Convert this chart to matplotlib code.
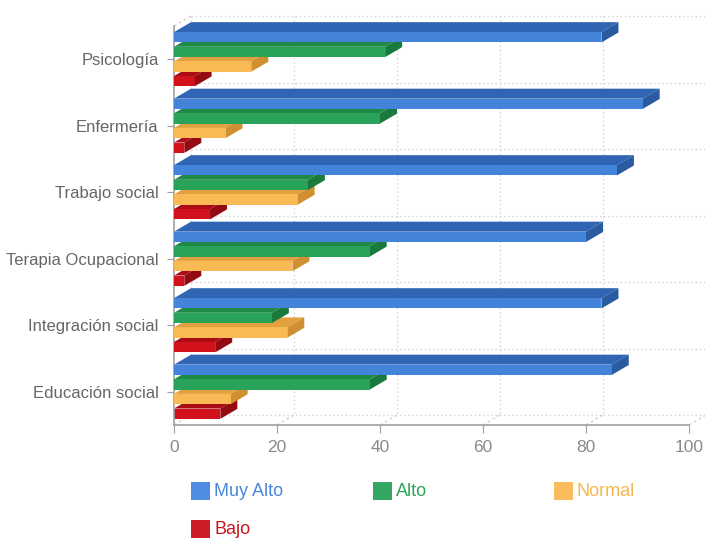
import matplotlib
matplotlib.use("Agg")
import matplotlib.pyplot as plt
from matplotlib.patches import Polygon, Rectangle

plt.rcParams["font.family"] = ["Liberation Sans", "DejaVu Sans"]

# Data
categories = ["Psicología", "Enfermería", "Trabajo social",
              "Terapia Ocupacional", "Integración social", "Educación social"]
series_names = ["Muy Alto", "Alto", "Normal", "Bajo"]
muy_alto = [83, 91, 86, 80, 83, 85]
alto = [41, 40, 26, 38, 19, 38]
normal = [15, 10, 24, 23, 22, 11]
bajo = [4, 2, 7, 2, 8, 9]
x_ticks = [0, 20, 40, 60, 80, 100]

series_values = [muy_alto, alto, normal, bajo]

# Styling
front_colors = ["#4384da", "#2aa35a", "#f9b954", "#d1111c"]
top_colors = ["#2f65b2", "#1f8a46", "#e2a03e", "#a90c15"]
side_colors = ["#2a5aa0", "#1a7a3e", "#d08f30", "#930a12"]
legend_colors = ["#4d8ce0", "#34a862", "#f9bd5c", "#cf1d28"]
legend_text_colors = ["#4a86d8", "#2ea35c", "#f7b650", "#c8161f"]

W, H = 705, 538
fig = plt.figure(figsize=(W / 100, H / 100), dpi=100)
ax = fig.add_axes([174 / W, 1 - 425 / H, 515 / W, 399 / H])
ax.set_xlim(0, 100)
ax.set_ylim(len(categories) - 0.5, -0.5)

DX = 3.3    # depth offset along x (value units)
DY = 0.15   # depth offset along y (category units, upward)
offsets = [-0.33, -0.11, 0.11, 0.33]
bar_h = 0.155
grid_c = "#d4d4d4"

# back wall grid
n = len(categories)
for xv in x_ticks:
    ax.plot([xv + DX, xv + DX], [-0.5 - DY, n - 0.5 - DY], ls=(0, (1, 2)),
            color=grid_c, lw=1, clip_on=False, zorder=0.5)
    # floor receding lines
    ax.plot([xv, xv + DX], [n - 0.5, n - 0.5 - DY], ls=(0, (2, 2)),
            color=grid_c, lw=1, clip_on=False, zorder=0.5)
for k in range(n + 1):
    yb = k - 0.5 - DY
    ax.plot([DX, 100 + DX], [yb, yb], ls=(0, (1, 2)), color=grid_c, lw=1,
            clip_on=False, zorder=0.5)
ax.plot([0, DX], [-0.5, -0.5 - DY], ls=(0, (2, 2)), color=grid_c, lw=1,
        clip_on=False, zorder=0.5)

# 3D-styled bars, drawn from the bottom of the chart upward
z = 2
for ci in reversed(range(n)):
    for si in reversed(range(len(series_names))):
        v = series_values[si][ci]
        yc = ci + offsets[si]
        y0 = yc - bar_h / 2
        y1 = yc + bar_h / 2
        top = Polygon([(0, y0), (v, y0), (v + DX, y0 - DY), (DX, y0 - DY)],
                      closed=True, facecolor=top_colors[si], edgecolor="none",
                      clip_on=False, zorder=z)
        side = Polygon([(v, y0), (v + DX, y0 - DY), (v + DX, y1 - DY), (v, y1)],
                       closed=True, facecolor=side_colors[si], edgecolor="none",
                       clip_on=False, zorder=z)
        front = Rectangle((0, y0), v, bar_h, facecolor=front_colors[si],
                          edgecolor="none", clip_on=False, zorder=z + 0.5)
        ax.add_patch(top)
        ax.add_patch(side)
        ax.add_patch(front)
        z += 1

# axes
for s in ["top", "right"]:
    ax.spines[s].set_visible(False)
for s in ["left", "bottom"]:
    ax.spines[s].set_color("#a0a0a0")
    ax.spines[s].set_linewidth(1.2)
ax.set_xticks(x_ticks)
ax.set_xticklabels([str(t) for t in x_ticks])
ax.set_yticks(range(n))
ax.set_yticklabels(categories)
ax.tick_params(axis="x", length=6, color="#a0a0a0", labelcolor="#8a8a8a",
               labelsize=12.5, pad=5)
ax.tick_params(axis="y", length=5, color="#a0a0a0", labelcolor="#666666",
               labelsize=12, pad=6)
ax.set_facecolor("none")

# legend
legend_pos = [(191, 482), (373, 482), (554, 482), (191, 520)]
for (px, py), name, fc, tc in zip(legend_pos, series_names, legend_colors,
                                  legend_text_colors):
    fig.patches.append(Rectangle((px / W, 1 - (py + 18) / H), 19 / W, 18 / H,
                                 transform=fig.transFigure, facecolor=fc,
                                 edgecolor="none"))
    fig.text((px + 23) / W, 1 - (py + 9) / H, name, color=tc, fontsize=13,
             va="center", ha="left")

fig.savefig("out.png", dpi=100)
